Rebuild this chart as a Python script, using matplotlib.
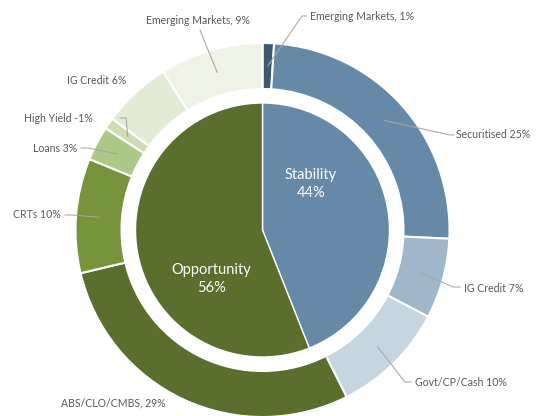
import numpy as np
import matplotlib.pyplot as plt

plt.rcParams['font.family'] = ['Lato', 'DejaVu Sans']

# inner pie: the two buckets
bucket_names = ['Stability', 'Opportunity']
bucket_pct = [44, 56]

# outer ring, clockwise from 12 o'clock
sector_names = ['Emerging Markets', 'Securitised', 'IG Credit', 'Govt/CP/Cash',
                'ABS/CLO/CMBS', 'CRTs', 'Loans', 'High Yield', 'IG Credit',
                'Emerging Markets']
sector_pct = [1, 25, 7, 10, 29, 10, 3, -1, 6, 9]
sector_sep = [', ', ' ', ' ', ' ', ', ', ' ', ' ', ' ', ' ', ', ']

bucket_colors = ['#6589a7', '#5a6e2e']
sector_colors = ['#3e5870', '#6589a7', '#a0b7c9', '#c6d5df',
                 '#5a6e2e', '#77933c', '#adc987', '#cddcb3', '#e3ebd4', '#eef3e5']

TXT = '#595959'
LINE = '#a6a6a6'

# label placement (pixel coords, y down): text anchor, alignment, leader elbow points
label_layout = [
    dict(xy=(310, 17), ha='left', path=[(302, 16), (307, 16)]),
    dict(xy=(456, 135), ha='left', path=[(450, 135), (454, 135)]),
    dict(xy=(464, 288), ha='left', path=[(453, 287), (460, 287)]),
    dict(xy=(415, 383), ha='left', path=[(405, 382), (411, 382)]),
    dict(xy=(166, 403), ha='right', path=None),
    dict(xy=(61, 215), ha='right', path=[(72, 215), (65, 215)]),
    dict(xy=(77, 149), ha='right', path=[(88, 148), (81, 148)]),
    dict(xy=(93, 119), ha='right', path=[(126, 118), (120, 118)]),
    dict(xy=(126, 81), ha='right', path=None),
    dict(xy=(198, 20), ha='center', path=[(200, 30)]),
]
inner_text_pos = [(311, 184), (211, 279)]

center = (262.5, 230)
r_outer, ring_w, r_inner = 187, 46, 127

fig = plt.figure(figsize=(5.4, 4.16), dpi=100)
ax = fig.add_axes([0, 0, 1, 1])

# y axis points down so pixel positions;
# that makes counterclock=True run clockwise on screen, start at -90 = top
outer, _ = ax.pie(np.abs(sector_pct), colors=sector_colors, radius=r_outer,
                  center=center, startangle=-90, counterclock=True,
                  wedgeprops=dict(width=ring_w, edgecolor='white', linewidth=1.5))
inner, _ = ax.pie(bucket_pct, colors=bucket_colors, radius=r_inner,
                  center=center, startangle=-90, counterclock=True,
                  wedgeprops=dict(edgecolor='white', linewidth=1.0))

ax.set_aspect('equal')
ax.set_xlim(0, 540)
ax.set_ylim(416, 0)
ax.axis('off')

for w, name, pct, sep, lay in zip(outer, sector_names, sector_pct, sector_sep, label_layout):
    ax.text(*lay['xy'], f'{name}{sep}{pct}%', ha=lay['ha'], va='center',
            fontsize=7.6, color=TXT)
    if lay['path'] is None:
        continue
    mid = np.deg2rad((w.theta1 + w.theta2) / 2)
    r = r_outer - ring_w / 2
    start = (center[0] + r * np.cos(mid), center[1] + r * np.sin(mid))
    pts = np.array([start] + lay['path'])
    ax.plot(pts[:, 0], pts[:, 1], color=LINE, lw=0.75)

for name, pct, pos in zip(bucket_names, bucket_pct, inner_text_pos):
    ax.text(*pos, f'{name}\n{pct}%', ha='center', va='center', fontsize=10.5,
            color='white', linespacing=1.3)

fig.savefig('out.png', dpi=100)
